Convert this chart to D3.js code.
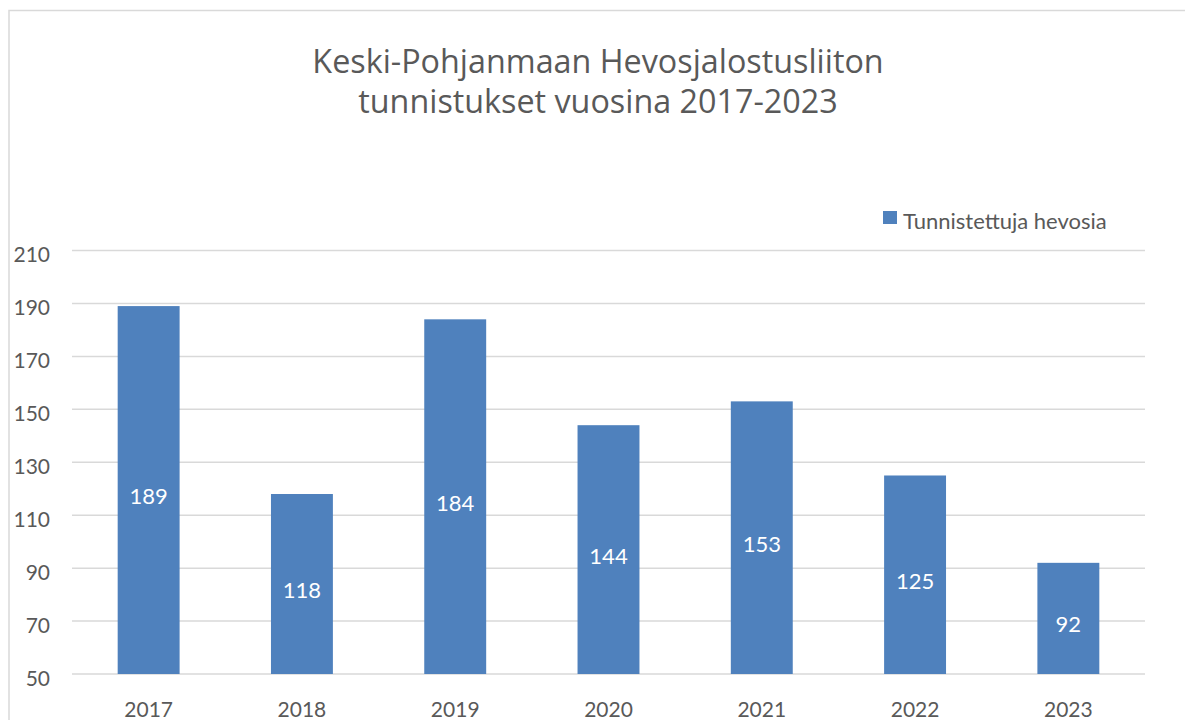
<!DOCTYPE html>
<html><head><meta charset="utf-8">
<script src="https://cdn.jsdelivr.net/npm/d3@7"></script>
<style>body{margin:0;background:#fff}svg{display:block}</style>
</head><body>
<svg id="c" width="1185" height="720"></svg>
<script>
const categories = ["2017","2018","2019","2020","2021","2022","2023"];
const values = [189,118,184,144,153,125,92];
const yTicks = [50,70,90,110,130,150,170,190,210];
const seriesName = "Tunnistettuja hevosia";
const titleLines = ["Keski-Pohjanmaan Hevosjalostusliiton","tunnistukset vuosina 2017-2023"];

(function(){
const svg = d3.select("#c");
const font = "Lato, 'Open Sans', sans-serif";
const titleFont = "'Open Sans', Lato, sans-serif";
const textCol = "#595959";
const barCol = "#4f81bd";

svg.append("rect").attr("x",9).attr("y",10.5).attr("width",1200).attr("height",800)
  .attr("fill","none").attr("stroke","#d9d9d9").attr("stroke-width",1.5);

const pL = 72, pR = 1145, pT = 250.5, pB = 674;
const x = d3.scaleBand().domain(categories).range([pL,pR]).paddingInner(0.596).paddingOuter(0.298);
const y = d3.scaleLinear().domain([50,210]).range([pB,pT]);

svg.append("g").selectAll("line").data(yTicks).join("line")
  .attr("x1",pL).attr("x2",pR).attr("y1",d=>y(d)).attr("y2",d=>y(d))
  .attr("stroke","#d9d9d9").attr("stroke-width",1.5);

svg.append("g").selectAll("text").data(yTicks).join("text")
  .attr("x",50).attr("y",d=>y(d)+11.8).attr("text-anchor","end")
  .attr("font-family",font).attr("font-size",21).attr("fill",textCol).text(d=>d);

svg.append("g").selectAll("rect").data(values).join("rect")
  .attr("x",(d,i)=>x(categories[i])).attr("width",x.bandwidth())
  .attr("y",d=>y(d)).attr("height",d=>y(50)-y(d)).attr("fill",barCol);

svg.append("g").selectAll("text").data(values).join("text")
  .attr("x",(d,i)=>x(categories[i])+x.bandwidth()/2)
  .attr("y",d=>(y(d)+y(50))/2+14).attr("text-anchor","middle")
  .attr("font-family",font).attr("font-size",22).attr("fill","#fff").text(d=>d);

svg.append("g").selectAll("text").data(categories).join("text")
  .attr("x",d=>x(d)+x.bandwidth()/2).attr("y",717).attr("text-anchor","middle")
  .attr("font-family",font).attr("font-size",21).attr("fill",textCol).text(d=>d);

svg.append("g").selectAll("text").data(titleLines).join("text")
  .attr("x",598).attr("y",(d,i)=>72.7+i*40).attr("text-anchor","middle")
  .attr("font-family",titleFont).attr("font-size",32.3).attr("fill",textCol).text(d=>d);

svg.append("rect").attr("x",883).attr("y",211).attr("width",14).attr("height",13).attr("fill",barCol);
svg.append("text").attr("x",903).attr("y",229.3)
  .attr("font-family",font).attr("font-size",22).attr("fill",textCol).text(seriesName);
})();
</script>
</body></html>
